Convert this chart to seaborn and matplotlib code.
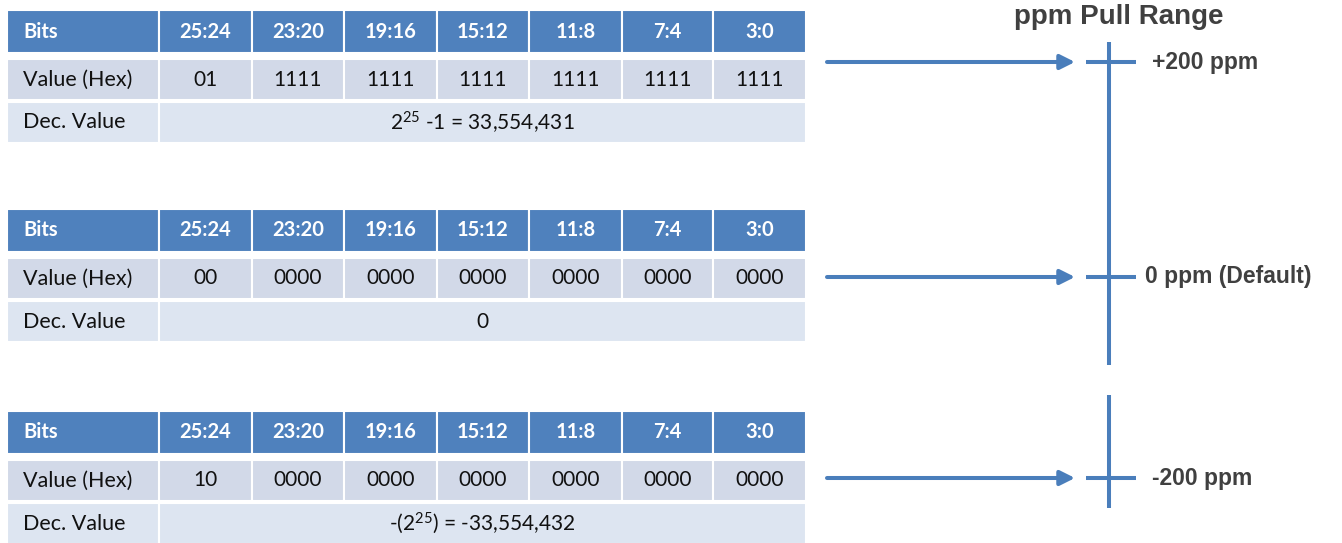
import matplotlib
matplotlib.use("Agg")
import matplotlib.pyplot as plt
import seaborn as sns
from matplotlib.patches import Rectangle

# -----------------------------
# Data
# -----------------------------
bit_fields = ["25:24", "23:20", "19:16", "15:12", "11:8", "7:4", "3:0"]

hex_plus = ["01", "1111", "1111", "1111", "1111", "1111", "1111"]
hex_zero = ["00", "0000", "0000", "0000", "0000", "0000", "0000"]
hex_minus = ["10", "0000", "0000", "0000", "0000", "0000", "0000"]

dec_plus = r"$\mathregular{2^{25}}$ -1 = 33,554,431"
dec_zero = "0"
dec_minus = r"-($\mathregular{2^{25}}$) = -33,554,432"

row_names = ["Bits", "Value (Hex)", "Dec. Value"]
ppm_labels = ["+200 ppm", "0 ppm (Default)", "-200 ppm"]

tables = [
    (hex_plus, dec_plus),
    (hex_zero, dec_zero),
    (hex_minus, dec_minus),
]

# -----------------------------
# Style
# -----------------------------
sns.set_theme(style="white")
plt.rcParams["font.family"] = ["Lato", "DejaVu Sans"]
plt.rcParams["mathtext.fontset"] = "custom"
plt.rcParams["mathtext.rm"] = "Lato"

HEAD = "#4F81BD"
ROW1 = "#D2D9E8"
ROW2 = "#DDE5F1"
BLUE = "#4A7EBB"
GREY = "#404040"
INK = "#111111"

# layout (pixel units)
col_edges = [7, 159, 252, 344, 437, 529, 622, 713, 806]
table_tops = [10, 209, 411]
head_h, gap1, row_h, gap2 = 43, 6, 41, 2
tick_y = [62, 277, 478]
label_x = [1152, 1145, 1152]
axis_x = 1109

fig = plt.figure(figsize=(13.42, 5.43), dpi=100)
ax = fig.add_axes([0, 0, 1, 1])
ax.set_xlim(0, 1342)
ax.set_ylim(543, 0)
ax.axis("off")


def cell(x0, x1, y0, h, color):
    ax.add_patch(Rectangle((x0, y0), x1 - x0, h, facecolor=color,
                           edgecolor="white", linewidth=1.5))


# -----------------------------
# Tables
# -----------------------------
for top, (hex_vals, dec_text) in zip(table_tops, tables):
    y_head = top
    y_val = top + head_h + gap1
    y_dec = y_val + row_h + gap2

    # header row
    cell(col_edges[0], col_edges[1], y_head, head_h, HEAD)
    ax.text(col_edges[0] + 16, y_head + head_h / 2, row_names[0],
            color="white", fontsize=14.5, fontweight="bold",
            ha="left", va="center")
    for i, lab in enumerate(bit_fields):
        x0, x1 = col_edges[i + 1], col_edges[i + 2]
        cell(x0, x1, y_head, head_h, HEAD)
        ax.text((x0 + x1) / 2, y_head + head_h / 2, lab, color="white",
                fontsize=14.5, fontweight="bold", ha="center", va="center")

    # hex value row
    cell(col_edges[0], col_edges[1], y_val, row_h, ROW1)
    ax.text(col_edges[0] + 16, y_val + row_h / 2, row_names[1],
            color=INK, fontsize=15.5, ha="left", va="center")
    for i, v in enumerate(hex_vals):
        x0, x1 = col_edges[i + 1], col_edges[i + 2]
        cell(x0, x1, y_val, row_h, ROW1)
        ax.text((x0 + x1) / 2, y_val + row_h / 2, v, color=INK,
                fontsize=15, ha="center", va="center")

    # decimal row (merged)
    cell(col_edges[0], col_edges[1], y_dec, row_h, ROW2)
    ax.text(col_edges[0] + 16, y_dec + row_h / 2, row_names[2],
            color=INK, fontsize=15.5, ha="left", va="center")
    cell(col_edges[1], col_edges[-1], y_dec, row_h, ROW2)
    ax.text((col_edges[1] + col_edges[-1]) / 2, y_dec + row_h / 2, dec_text,
            color=INK, fontsize=15, ha="center", va="center")

# -----------------------------
# Arrows and pull range axis
# -----------------------------
for y, lab, lx in zip(tick_y, ppm_labels, label_x):
    ax.annotate("", xy=(1075, y), xytext=(827, y),
                arrowprops=dict(arrowstyle="-|>", color=BLUE, lw=2.9,
                                mutation_scale=22, shrinkA=0, shrinkB=0))
    ax.plot([1086, 1136], [y, y], color=BLUE, lw=2.9, solid_capstyle="butt")
    ax.text(lx, y, lab, color=GREY, fontsize=16.5, fontweight="bold",
            ha="left", va="center", family="Liberation Sans")

ax.plot([axis_x, axis_x], [42, 365], color=BLUE, lw=2.9, solid_capstyle="butt")
ax.plot([axis_x, axis_x], [395, 508], color=BLUE, lw=2.9, solid_capstyle="butt")

ax.text(1119, 17, "ppm Pull Range", color=GREY, fontsize=20,
        fontweight="bold", ha="center", va="center", family="Liberation Sans")

plt.savefig("out.png", dpi=100)
